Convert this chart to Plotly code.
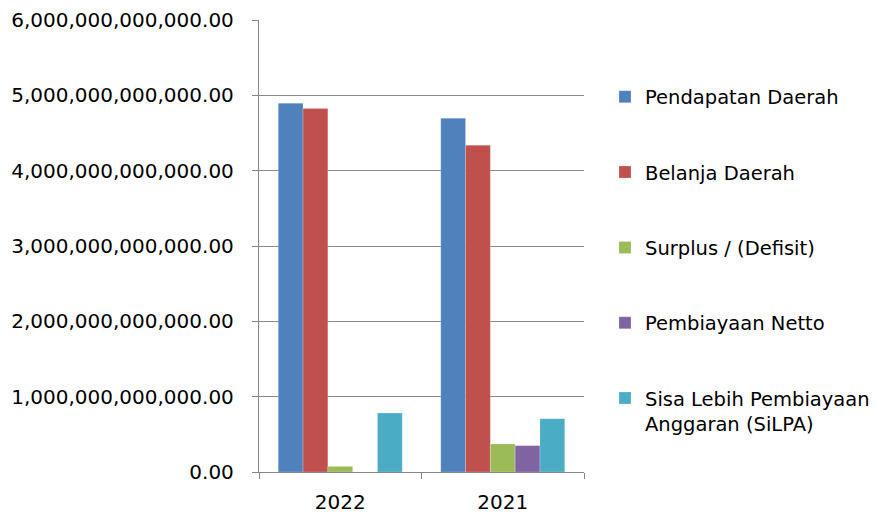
import plotly.graph_objects as go

categories = ["2022", "2021"]
series_names = [
    "Pendapatan Daerah",
    "Belanja Daerah",
    "Surplus / (Defisit)",
    "Pembiayaan Netto",
    "Sisa Lebih Pembiayaan<br>Anggaran (SiLPA)",
]
pendapatan = [4.895e12, 4.695e12]
belanja = [4.825e12, 4.338e12]
surplus = [0.075e12, 0.372e12]
pembiayaan = [0.0, 0.350e12]
silpa = [0.782e12, 0.708e12]
colors = ["#4F81BD", "#C0504D", "#9BBB59", "#8064A2", "#4BACC6"]

series_values = [pendapatan, belanja, surplus, pembiayaan, silpa]

fig = go.Figure()
for i, (name, vals, col) in enumerate(zip(series_names, series_values, colors)):
    fig.add_trace(go.Bar(
        x=categories, y=vals, name=name,
        marker=dict(color=col, line=dict(color="rgba(255,255,255,0.35)", width=0.6)),
        legendgroup=f"g{i}",
    ))

FONT = "DejaVu Sans"
fig.update_layout(
    width=877, height=514,
    margin=dict(l=259, r=293, t=20, b=42, autoexpand=False),
    paper_bgcolor="white", plot_bgcolor="white",
    barmode="group", bargap=0.237, bargroupgap=0,
    font=dict(family=FONT, size=20, color="#000000"),
    showlegend=True,
    legend=dict(
        x=(605 - 259) / 325, xanchor="left",
        y=(472 - 77.5) / 452, yanchor="top",
        traceorder="grouped", tracegroupgap=47,
        valign="top",
        font=dict(family=FONT, size=19.5, color="#000000"),
        bgcolor="rgba(0,0,0,0)",
        itemclick=False,
    ),
)

fig.update_xaxes(
    showline=True, linecolor="#868686", linewidth=1.3,
    ticks="outside", tickson="boundaries", ticklen=6, tickcolor="#868686", tickwidth=1.3,
    showgrid=False,
    ticklabelstandoff=12,
    tickfont=dict(family=FONT, size=20, color="#000000"),
)
fig.update_yaxes(
    range=[0, 6e12], dtick=1e12, tick0=0, tickformat=",.2f",
    showline=True, linecolor="#868686", linewidth=1.3,
    ticks="outside", ticklen=6, tickcolor="#868686", tickwidth=1.3,
    showgrid=True, gridcolor="#8a8a8a", gridwidth=1.3,
    zeroline=False,
    ticklabelstandoff=14,
    tickfont=dict(family=FONT, size=20, color="#000000"),
)

fig.write_html(
    "out.html",
    config={"displayModeBar": False},
    post_script="document.body.style.margin='0';",
)
